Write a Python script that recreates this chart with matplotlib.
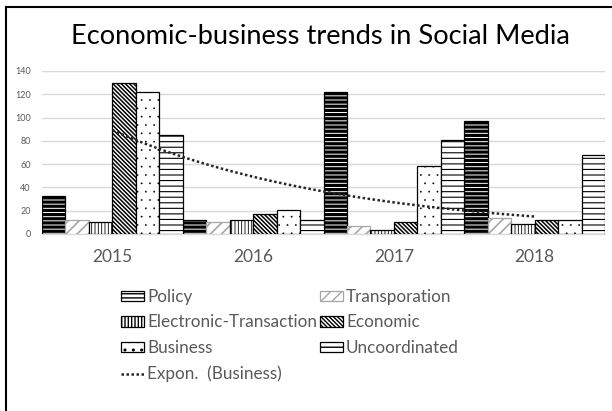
import numpy as np
import matplotlib
matplotlib.use("Agg")
import matplotlib.pyplot as plt
from matplotlib.patches import Patch
from matplotlib.lines import Line2D

years = ["2015", "2016", "2017", "2018"]
series = ["Policy", "Transporation", "Electronic-Transaction", "Economic", "Business", "Uncoordinated"]
policy = [33, 12, 122, 97]
transporation = [12, 10, 7, 14]
electronic = [10, 12, 3, 9]
economic = [130, 17, 10, 12]
business = [122, 21, 58, 12]
uncoordinated = [85, 12, 81, 68]
values = [policy, transporation, electronic, economic, business, uncoordinated]

plt.rcParams['font.family'] = ['Lato', 'DejaVu Sans']
plt.rcParams['hatch.linewidth'] = 1.0

gray_txt = "#595959"
styles = [
    dict(hatch="----", edgecolor="black", hlw=2.3),
    dict(hatch="///", edgecolor="#a6a6a6", hlw=1.2),
    dict(hatch="|||||", edgecolor="black", hlw=0.6),
    dict(hatch="\\" * 8, edgecolor="black", hlw=1.1),
    dict(hatch="..", edgecolor="black", hlw=0.1),
    dict(hatch="---", edgecolor="black", hlw=0.8),
]

fig = plt.figure(figsize=(6.12, 4.11), dpi=100)
ax = fig.add_axes([0.0686, 0.4307, 0.92, 0.3966])

x = np.arange(len(years))
w = 1 / 6
handles = []
for i, (name, vals, st) in enumerate(zip(series, values, styles)):
    bars = ax.bar(x - 0.5 + w / 2 + i * w, vals, width=w, color="white",
                  edgecolor=st["edgecolor"], hatch=st["hatch"], linewidth=0.9, zorder=3)
    for b in bars:
        if hasattr(b, "set_hatch_linewidth"):
            b.set_hatch_linewidth(st["hlw"])
    h = Patch(facecolor="white", edgecolor=st["edgecolor"], hatch=st["hatch"], linewidth=0.9)
    if hasattr(h, "set_hatch_linewidth"):
        h.set_hatch_linewidth(st["hlw"])
    handles.append(h)

# exponential trendline on Business
k = np.arange(1, len(business) + 1)
b1, b0 = np.polyfit(k, np.log(business), 1)
xs = np.linspace(1, len(business), 100)
trend, = ax.plot(xs - 1, np.exp(b0 + b1 * xs), linestyle=(0, (1, 1)), color="#262626",
                 linewidth=1.8, zorder=4)

ax.set_xlim(-0.5, 3.5)
ax.set_ylim(0, 140)
ax.set_yticks(range(0, 141, 20))
ax.set_xticks(x)
ax.set_xticklabels(years, fontsize=12.5, color=gray_txt)
ax.tick_params(axis="y", labelsize=6.5, colors=gray_txt, length=0, pad=8)
ax.tick_params(axis="x", length=0, pad=11)
ax.grid(axis="y", color="#d9d9d9", linewidth=1.0, zorder=0)
for s in ["top", "right", "left"]:
    ax.spines[s].set_visible(False)
ax.spines["bottom"].set_color("#d9d9d9")
ax.spines["bottom"].set_linewidth(1.0)

fig.text(0.523, 0.91, "Economic-business trends in Social Media", ha="center", va="center",
         fontsize=19.6, color="black")

# legend: column-major order so it reads row by row
leg_h = [handles[0], handles[2], handles[4], trend, handles[1], handles[3], handles[5]]
leg_l = [series[0], series[2], series[4], "Expon.  (Business)", series[1], series[3], series[5]]
fig.legend(leg_h, leg_l, ncol=2, loc="upper left", bbox_to_anchor=(0.183, 0.318),
           frameon=False, fontsize=12.3, handlelength=1.4, handleheight=0.55,
           handletextpad=0.15, columnspacing=0.15, labelspacing=0.56, borderpad=0,
           labelcolor=gray_txt)

# border of the screenshot frame (left and top only)
fig.add_artist(Line2D([0.01, 0.01], [0, 0.983], color="black", linewidth=1.5,
                      transform=fig.transFigure))
fig.add_artist(Line2D([0.01, 1.0], [0.983, 0.983], color="black", linewidth=1.5,
                      transform=fig.transFigure))

fig.savefig("out.png", dpi=100)
